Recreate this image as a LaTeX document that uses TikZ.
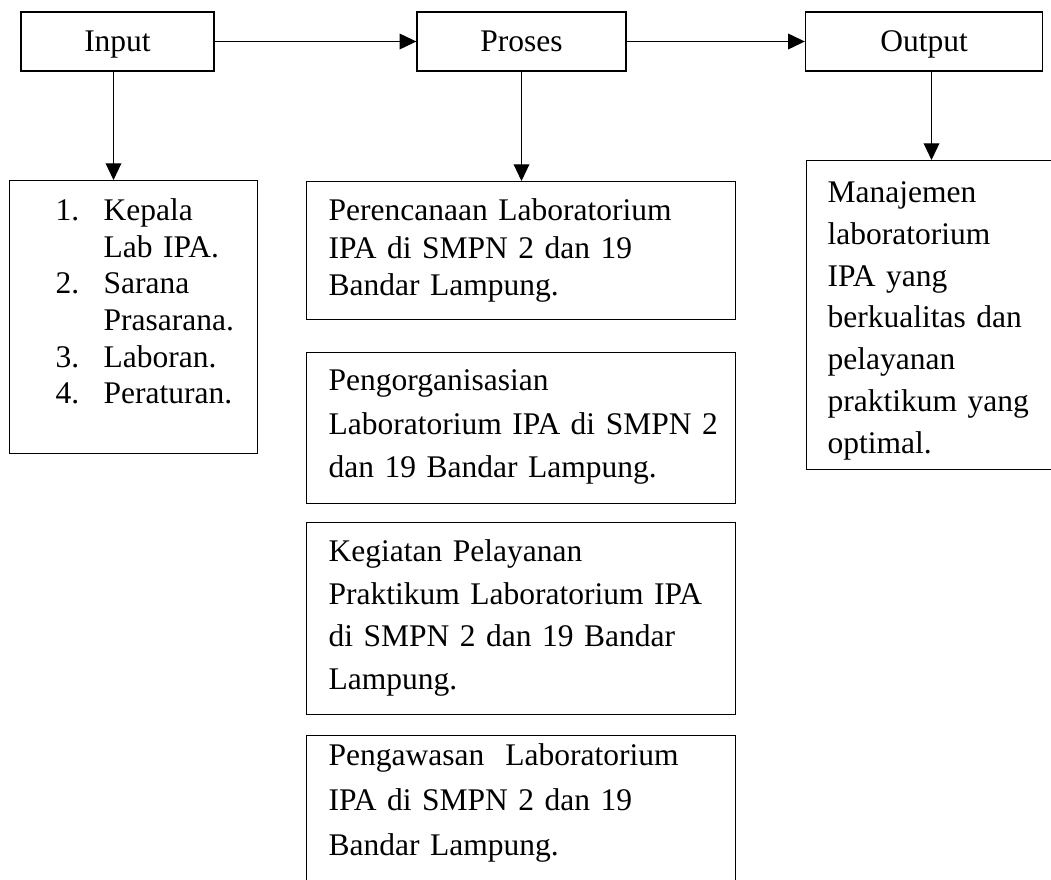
\documentclass[tikz,border=0pt]{standalone}
\usepackage{fontspec}
\setmainfont{Liberation Serif}
\usetikzlibrary{arrows.meta}

\begin{document}
\begin{tikzpicture}[x=0.4pt, y=-0.4pt,
	arr/.style={-{Triangle[length=6.7pt,width=6.3pt]}, line width=0.45pt},
	headbox/.style={draw, line width=0.55pt, minimum width=#1, inner sep=0pt, text height=16pt, text depth=7.6pt, font=\fontsize{12.6pt}{15pt}\selectfont},
	textbox/.style={draw, line width=0.55pt, anchor=north west, align=left, inner sep=0pt, text width=171.6pt, font=\fontsize{12.6pt}{#1}\selectfont},
	textpad/.style={execute at begin node={\leftskip=#1}}
	]

	\useasboundingbox (0,0) rectangle (1051,879);
	\clip (0,0) rectangle (1051,879);

	% top row
	\node[headbox=77.2pt] (input) at (117.5,41.5) {Input};
	\node[headbox=83.6pt] (proses) at (521.5,41.5) {Proses};
	\node[headbox=94.8pt] (output) at (924,41.5) {Output};

	% input column
	\node[textbox=14.65pt, text width=99.2pt, text height=16pt, text depth=93.2pt] (inlist) at (9,180)
		{\begin{tabular}[t]{@{\hspace{18.4pt}}p{19.2pt}@{}l@{}}
			1. & Kepala\\
			   & Lab IPA.\\
			2. & Sarana\\
			   & Prasarana.\\
			3. & Laboran.\\
			4. & Peraturan.
		\end{tabular}};

	% proses column
	\node[textbox=15pt, textpad=8.8pt, text height=15.6pt, text depth=39.6pt] (plan) at (306,181)
		{Perencanaan Laboratorium\\ IPA di SMPN 2 dan 19\\ Bandar Lampung.};
	\node[textbox=17.4pt, textpad=8.8pt, text height=15.2pt, text depth=45.2pt] (org) at (306,352)
		{Pengorganisasian\\ Laboratorium IPA di SMPN 2\\ dan 19 Bandar Lampung.};
	\node[textbox=17pt, textpad=8.8pt, text height=15.6pt, text depth=61.2pt] (act) at (306,522)
		{Kegiatan Pelayanan\\ Praktikum Laboratorium IPA\\ di SMPN 2 dan 19 Bandar\\ Lampung.};
	\node[textbox=18pt, textpad=8.8pt, text height=12pt, text depth=80pt] (supv) at (306,735)
		{Pengawasan\ \ Laboratorium\\ IPA di SMPN 2 dan 19\\ Bandar Lampung.};

	% output column
	\node[textbox=16.7pt, textpad=8.4pt, text width=110pt, text height=16.8pt, text depth=106.8pt] (goal) at (806,160)
		{Manajemen\\ laboratorium\\ IPA yang\\ berkualitas dan\\ pelayanan\\ praktikum yang\\ optimal.};

	% arrows
	\draw[arr] (input) -- (proses);
	\draw[arr] (proses) -- (output);
	\draw[arr] ([xshift=-1.6pt]input.south) -- ([xshift=-1.6pt]input.south |- inlist.north);
	\draw[arr] (proses.south) -- (proses.south |- plan.north);
	\draw[arr] ([xshift=3pt]output.south) -- ([xshift=3pt]output.south |- goal.north);

\end{tikzpicture}
\end{document}
